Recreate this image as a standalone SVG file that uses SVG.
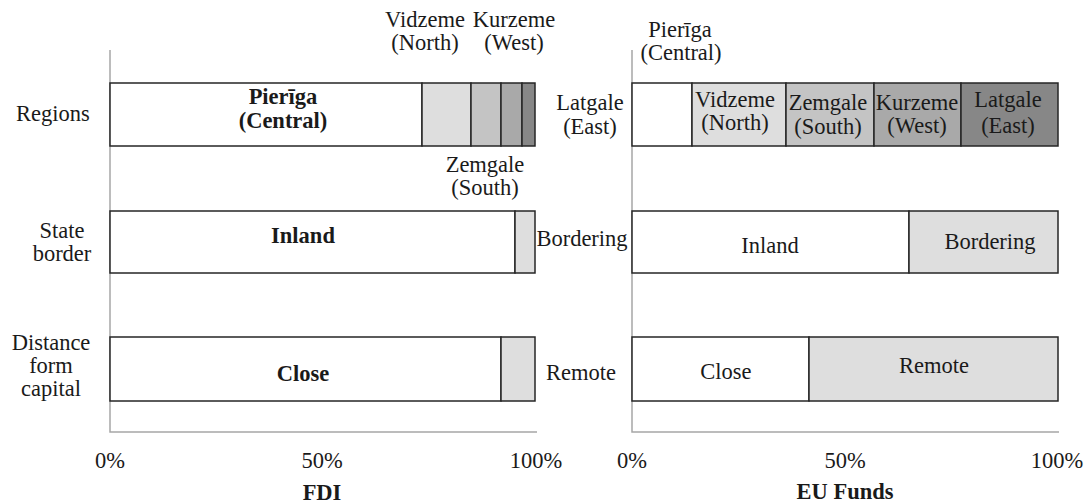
<svg xmlns="http://www.w3.org/2000/svg" width="1086" height="503" viewBox="0 0 1086 503" font-family="'Liberation Serif', 'DejaVu Serif', serif">
<style>
text{font-family:'Liberation Serif','Tinos','DejaVu Serif',serif;font-size:22.5px;fill:#1a1a1a;text-anchor:middle}
.b{font-weight:bold}
.axis{stroke:#a6a6a6;stroke-width:1.5;fill:none}
.seg{stroke:#262626;stroke-width:1.5}
.w{fill:#ffffff}.l1{fill:#dedede}.l2{fill:#c4c4c4}.l3{fill:#a9a9a9}.l4{fill:#878787}
</style>
<rect width="1086" height="503" fill="#ffffff"/>
<g id="axes">
<polyline class="axis" points="110,50 110,432 537,432"/>
<polyline class="axis" points="632,50 632,432 1059,432"/>
</g>
<g id="category-labels">
<text x="53" y="121">Regions</text>
<text x="62" y="238">State</text><text x="62" y="261">border</text>
<text x="51" y="350">Distance</text><text x="51" y="373">form</text><text x="51" y="396">capital</text>
</g>
<g id="fdi-regions">
<rect class="seg w" x="110" y="83" width="312" height="63"/>
<rect class="seg l1" x="422" y="83" width="49" height="63"/>
<rect class="seg l2" x="471" y="83" width="30" height="63"/>
<rect class="seg l3" x="501" y="83" width="21" height="63"/>
<rect class="seg l4" x="522" y="83" width="13" height="63"/>
<text class="b" x="283" y="104">Pierīga</text><text class="b" x="283" y="128">(Central)</text>
<text x="425" y="27">Vidzeme</text><text x="425" y="50">(North)</text>
<text x="514" y="27">Kurzeme</text><text x="514" y="50">(West)</text>
<text x="485" y="172">Zemgale</text><text x="485" y="195">(South)</text>
<text x="590" y="110">Latgale</text><text x="590" y="134">(East)</text>
</g>
<g id="fdi-border">
<rect class="seg w" x="110" y="211" width="405" height="62"/>
<rect class="seg l1" x="515" y="211" width="20" height="62"/>
<text class="b" x="303" y="243">Inland</text>
<text x="582" y="246">Bordering</text>
</g>
<g id="fdi-distance">
<rect class="seg w" x="110" y="337" width="391" height="64"/>
<rect class="seg l1" x="501" y="337" width="34" height="64"/>
<text class="b" x="303" y="381">Close</text>
<text x="581" y="380">Remote</text>
</g>
<g id="eu-regions">
<rect class="seg w" x="632" y="83" width="60" height="63"/>
<rect class="seg l1" x="692" y="83" width="94" height="63"/>
<rect class="seg l2" x="786" y="83" width="88" height="63"/>
<rect class="seg l3" x="874" y="83" width="87" height="63"/>
<rect class="seg l4" x="961" y="83" width="97" height="63"/>
<text x="680" y="37">Pierīga</text><text x="681" y="60">(Central)</text>
<text x="735" y="107">Vidzeme</text><text x="735" y="130">(North)</text>
<text x="828" y="110">Zemgale</text><text x="828" y="134">(South)</text>
<text x="917" y="110">Kurzeme</text><text x="917" y="133">(West)</text>
<text x="1008" y="107">Latgale</text><text x="1008" y="133">(East)</text>
</g>
<g id="eu-border">
<rect class="seg w" x="632" y="211" width="277" height="62"/>
<rect class="seg l1" x="909" y="211" width="149" height="62"/>
<text x="770" y="253">Inland</text>
<text x="990" y="249">Bordering</text>
</g>
<g id="eu-distance">
<rect class="seg w" x="632" y="337" width="177" height="64"/>
<rect class="seg l1" x="809" y="337" width="249" height="64"/>
<text x="726" y="379">Close</text>
<text x="934" y="373">Remote</text>
</g>
<g id="ticks">
<text x="110" y="468">0%</text><text x="322" y="468">50%</text><text x="536" y="468">100%</text>
<text x="632" y="468">0%</text><text x="845" y="468">50%</text><text x="1057" y="468">100%</text>
<text class="b" x="322" y="500">FDI</text>
<text class="b" x="845" y="499">EU Funds</text>
</g>
</svg>
